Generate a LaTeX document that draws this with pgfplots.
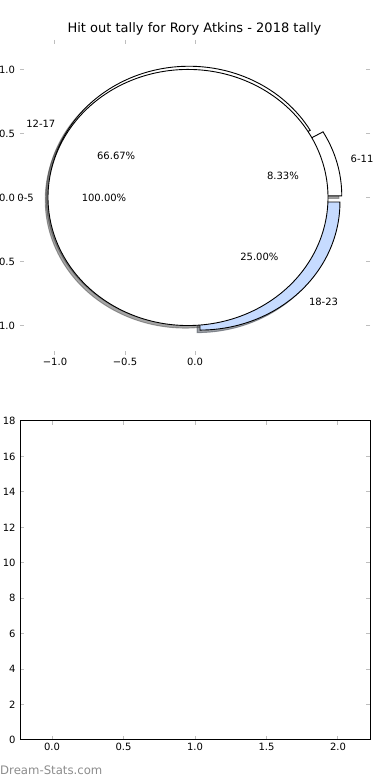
\documentclass[border=0pt]{standalone}
\usepackage{fontspec}
\setmainfont{DejaVu Sans}
\usepackage{pgfplots}
\pgfplotsset{compat=1.18}
\definecolor{pieblue}{RGB}{198,219,255}
\definecolor{tickgray}{RGB}{190,190,190}
\definecolor{shadowblue}{RGB}{59,66,77}
\tikzset{tlab/.style={font=\fontsize{10bp}{12bp}\selectfont}}

% pie data: label, share (fraction), cumulative start (fraction)
% 6-11: 0.0833 (start 0), 12-17: 0.6667 (start 0.0833),
% 18-23: 0.25 (start 0.75), 0-5: 1.0 (start 1.0)

\newcommand\pieshape[5]{%
  \pgfmathsetmacro\sa{360*#1}%
  \pgfmathsetmacro\ea{360*(#1+#2)}%
  \pgfmathsetmacro\ma{(\sa+\ea)/2}%
  \pgfmathsetmacro\dx{0.05*cos(\ma)+#5}%
  \pgfmathsetmacro\dy{0.05*sin(\ma)+#5}%
  \edef\temp{\noexpand\addplot[fill=#3, draw=#4, line width=0.9bp, fill opacity=\fo, draw opacity=\fo, domain=\sa:\ea, samples=120, variable=\noexpand\t, no markers]
    ({\dx+cos(\noexpand\t)},{\dy+sin(\noexpand\t)}) -- (axis cs:\dx,\dy) -- cycle;}%
  \temp
}
\newcommand\fullcircle[5]{%
  \pgfmathsetmacro\sa{360*#1}%
  \pgfmathsetmacro\ea{360*(#1+#2)}%
  \pgfmathsetmacro\ma{(\sa+\ea)/2}%
  \pgfmathsetmacro\dx{0.05*cos(\ma)+#5}%
  \pgfmathsetmacro\dy{0.05*sin(\ma)+#5}%
  \edef\temp{\noexpand\addplot[fill=#3, draw=#4, line width=0.9bp, fill opacity=\fo, draw opacity=\fo, domain=\sa:\ea, samples=240, variable=\noexpand\t, no markers]
    ({\dx+cos(\noexpand\t)},{\dy+sin(\noexpand\t)}) -- cycle;}%
  \temp
}

\begin{document}
\begin{tikzpicture}[x=1bp,y=1bp]
\useasboundingbox (0,0) rectangle (390,780);
\begin{axis}[
  at={(20bp,425bp)}, anchor=south west, scale only axis,
  width=350bp, height=315bp,
  xmin=-1.25, xmax=1.25, ymin=-1.23, ymax=1.23,
  axis line style={draw=none},
  xtick={-1,-0.5,0}, xticklabels={−1.0,−0.5,0.0},
  ytick={-1,-0.5,0,0.5,1}, yticklabels={−1.0,−0.5,0.0,0.5,1.0},
  tick style={tickgray, line width=1bp},
  major tick length=4bp,
  ticklabel style={tlab},
  yticklabel style={xshift=-1.5bp},
  clip=false,
]
% shadows (offset -0.02,-0.02)
\def\fo{0.5}
\pieshape{0}{0.0833}{black!70}{black!70}{-0.02}
\pieshape{0.0833}{0.6667}{black!70}{black!70}{-0.02}
\pieshape{0.75}{0.25}{shadowblue}{shadowblue}{-0.02}
\fullcircle{1.0}{1.0}{black!70}{black!70}{-0.02}
% wedges
\def\fo{1}
\pieshape{0}{0.0833}{white}{black}{0}
\pieshape{0.0833}{0.6667}{white}{black}{0}
\pieshape{0.75}{0.25}{pieblue}{black}{0}
\fullcircle{1.0}{1.0}{white}{black}{0}
% labels
\node[tlab, anchor=west, inner sep=0] at (axis cs:1.111,0.298) {6-11};
\node[tlab, inner sep=0] at (axis cs:0.628,0.168) {8.33\%};
\node[tlab, anchor=east, inner sep=0] at (axis cs:-0.996,0.575) {12-17};
\node[tlab, inner sep=0] at (axis cs:-0.563,0.325) {66.67\%};
\node[tlab, anchor=west, inner sep=0] at (axis cs:0.813,-0.813) {18-23};
\node[tlab, inner sep=0] at (axis cs:0.460,-0.460) {25.00\%};
\node[tlab, anchor=east, inner sep=0] at (axis cs:-1.15,0) {0-5};
\node[tlab, inner sep=0] at (axis cs:-0.65,0) {100.00\%};
\end{axis}
\node[font=\fontsize{13bp}{15bp}\selectfont] at (194.5,751) {Hit out tally for Rory Atkins - 2018 tally};

\begin{axis}[
  at={(20bp,40bp)}, anchor=south west, scale only axis,
  width=350bp, height=319bp,
  xmin=-0.224, xmax=2.224, ymin=0, ymax=18,
  axis line style={black, line width=1bp},
  xtick={0,0.5,1,1.5,2}, xticklabels={0.0,0.5,1.0,1.5,2.0},
  ytick={0,2,4,6,8,10,12,14,16,18},
  yticklabels={0,2,4,6,8,10,12,14,16,18},
  tick style={tickgray, line width=1bp},
  major tick length=4bp,
  ticklabel style={tlab},
  yticklabel style={xshift=-1bp},
]
\addplot[draw=none] coordinates {(0,0)};
\end{axis}
\node[anchor=west, inner sep=0, text=black!45, font=\fontsize{11.7bp}{13bp}\selectfont] at (0,10) {Dream-Stats.com};
\end{tikzpicture}
\end{document}
